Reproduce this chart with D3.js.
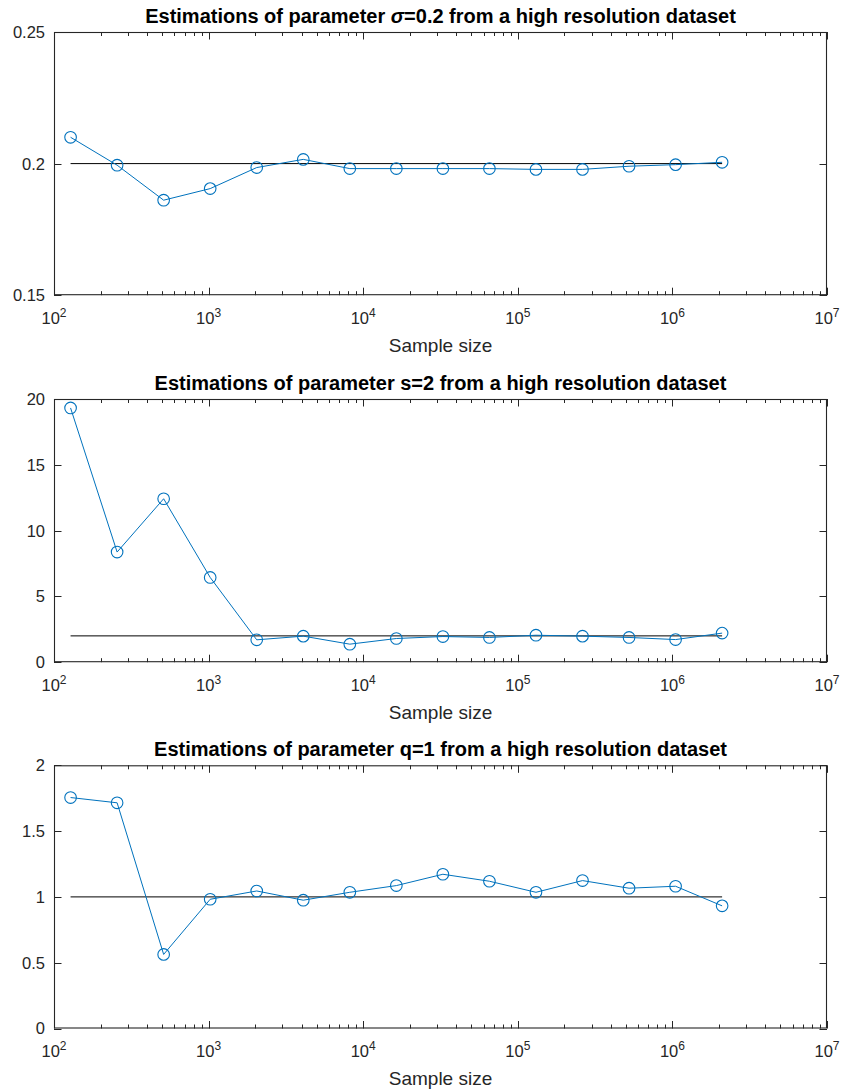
<!DOCTYPE html>
<html>
<head>
<meta charset="utf-8">
<script src="https://cdn.jsdelivr.net/npm/d3@7"></script>
<style>
  html, body { margin: 0; padding: 0; background: #fff; }
  svg { display: block; font-family: "Liberation Sans", Arial, Helvetica, sans-serif; }
</style>
</head>
<body>
<svg id="chart" width="844" height="1090"></svg>
<script>
// ---- data ----
const sampleSizes = [128, 256, 512, 1024, 2048, 4096, 8192, 16384, 32768, 65536, 131072, 262144, 524288, 1048576, 2097152];
const sigmaEst = [0.2100, 0.1994, 0.1861, 0.1905, 0.1985, 0.2016, 0.1981, 0.1981, 0.1981, 0.1981, 0.1978, 0.1978, 0.1990, 0.1996, 0.2005];
const sEst = [19.32, 8.37, 12.42, 6.44, 1.70, 1.98, 1.37, 1.80, 1.95, 1.88, 2.05, 1.98, 1.88, 1.72, 2.21];
const qEst = [1.755, 1.715, 0.563, 0.982, 1.045, 0.975, 1.035, 1.086, 1.172, 1.119, 1.035, 1.124, 1.066, 1.081, 0.932];
const trueValues = [0.2, 2, 1];
const titlesPre = ["Estimations of parameter ", "Estimations of parameter ", "Estimations of parameter "];
const titlesSym = ["σ", "s", "q"];
const titlesPost = ["=0.2 from a high resolution dataset", "=2 from a high resolution dataset", "=1 from a high resolution dataset"];
const symItalic = [true, false, false];
const yDomains = [[0.15, 0.25], [0, 20], [0, 2]];
const yTicks = [[0.15, 0.2, 0.25], [0, 5, 10, 15, 20], [0, 0.5, 1, 1.5, 2]];
const yTickLabels = [["0.15", "0.2", "0.25"], ["0", "5", "10", "15", "20"], ["0", "0.5", "1", "1.5", "2"]];
const xDomain = [100, 1e7];
const xMajorExps = [2, 3, 4, 5, 6, 7];
const xLabel = "Sample size";
const series = [sigmaEst, sEst, qEst];

// ---- layout ----
const svg = d3.select("#chart");
const left = 54, right = 827;
const tops = [32, 399, 765.3];
const plotH = 263.2;
const axisColor = "#262626";
const blue = "#0072BD";

const x = d3.scaleLog().domain(xDomain).range([left, right]);
const minorTicks = [];
for (let e = 2; e < 7; e++) for (let m = 2; m <= 9; m++) minorTicks.push(m * Math.pow(10, e));

series.forEach((vals, i) => {
  const top = tops[i], bottom = top + plotH;
  const y = d3.scaleLinear().domain(yDomains[i]).range([bottom, top]);
  const g = svg.append("g");

  // true value line
  g.append("line")
    .attr("x1", x(sampleSizes[0])).attr("x2", x(sampleSizes[sampleSizes.length - 1]))
    .attr("y1", y(trueValues[i])).attr("y2", y(trueValues[i]))
    .attr("stroke", "#000").attr("stroke-width", 1);

  // estimate line
  const line = d3.line().x((d, j) => x(sampleSizes[j])).y(d => y(d));
  g.append("path").datum(vals).attr("d", line)
    .attr("fill", "none").attr("stroke", blue).attr("stroke-width", 1);
  g.selectAll("circle.m").data(vals).join("circle")
    .attr("cx", (d, j) => x(sampleSizes[j])).attr("cy", d => y(d)).attr("r", 5.8)
    .attr("fill", "none").attr("stroke", blue).attr("stroke-width", 1.1);

  // box
  g.append("rect").attr("x", left + 0.5).attr("y", top + 0.5)
    .attr("width", right - left - 1).attr("height", plotH - 1)
    .attr("fill", "none").attr("stroke", axisColor).attr("stroke-width", 1.1);

  // x ticks (bottom & top, inward)
  const majorVals = xMajorExps.map(e => Math.pow(10, e));
  const tickG = g.append("g").attr("stroke", axisColor).attr("stroke-width", 1);
  majorVals.forEach(v => {
    const xx = Math.round(x(v)) + 0.5;
    tickG.append("line").attr("x1", xx).attr("x2", xx).attr("y1", bottom).attr("y2", bottom - 7.5);
    tickG.append("line").attr("x1", xx).attr("x2", xx).attr("y1", top).attr("y2", top + 7.5);
  });
  minorTicks.forEach(v => {
    const xx = Math.round(x(v)) + 0.5;
    tickG.append("line").attr("x1", xx).attr("x2", xx).attr("y1", bottom).attr("y2", bottom - 4);
    tickG.append("line").attr("x1", xx).attr("x2", xx).attr("y1", top).attr("y2", top + 4);
  });
  // y ticks (left & right, inward)
  yTicks[i].forEach(v => {
    const yy = Math.round(y(v)) + 0.5;
    tickG.append("line").attr("x1", left).attr("x2", left + 7.5).attr("y1", yy).attr("y2", yy);
    tickG.append("line").attr("x1", right).attr("x2", right - 7.5).attr("y1", yy).attr("y2", yy);
  });

  // x tick labels 10^n
  xMajorExps.forEach(e => {
    const t = g.append("text")
      .attr("x", x(Math.pow(10, e))).attr("y", bottom + 28.5)
      .attr("text-anchor", "middle").attr("fill", axisColor)
      .style("font-size", "16.5px");
    t.append("tspan").text("10");
    t.append("tspan").attr("dy", -7).style("font-size", "12px").text(String(e));
  });

  // y tick labels
  yTicks[i].forEach((v, k) => {
    g.append("text").attr("x", left - 9).attr("y", y(v))
      .attr("dy", "0.36em").attr("text-anchor", "end").attr("fill", axisColor)
      .style("font-size", "16.5px").text(yTickLabels[i][k]);
  });

  // x axis label
  g.append("text").attr("x", (left + right) / 2).attr("y", bottom + 56.5)
    .attr("text-anchor", "middle").attr("fill", axisColor)
    .style("font-size", "19px").text(xLabel);

  // title
  const tt = g.append("text").attr("x", (left + right) / 2).attr("y", top - 9.5)
    .attr("text-anchor", "middle").attr("fill", "#000")
    .style("font-size", "20px").style("font-weight", "bold");
  tt.append("tspan").text(titlesPre[i]);
  tt.append("tspan").style("font-style", symItalic[i] ? "italic" : "normal").text(titlesSym[i]);
  tt.append("tspan").text(titlesPost[i]);
});
</script>
</body>
</html>
